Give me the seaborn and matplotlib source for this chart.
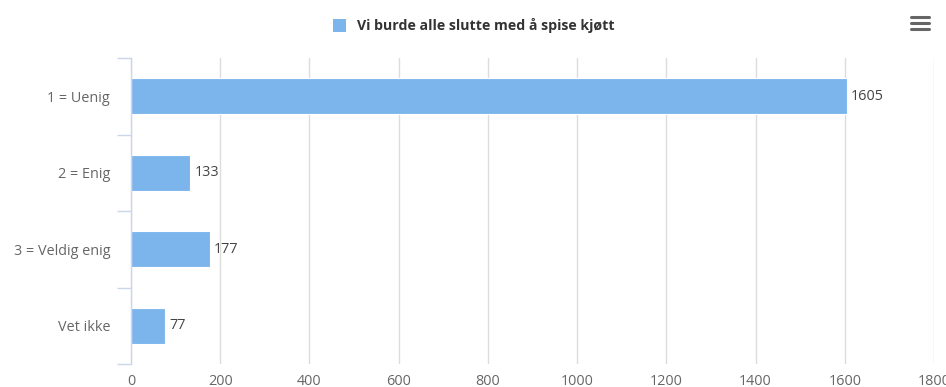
import matplotlib
matplotlib.use("Agg")
import matplotlib.pyplot as plt
from matplotlib.lines import Line2D
from matplotlib.patches import Rectangle
import seaborn as sns
import pandas as pd

categories = ["1 = Uenig", "2 = Enig", "3 = Veldig enig", "Vet ikke"]
values = [1605, 133, 177, 77]
series_name = "Vi burde alle slutte med å spise kjøtt"
x_ticks = [0, 200, 400, 600, 800, 1000, 1200, 1400, 1600, 1800]

BAR = "#7cb5ec"
GRID = "#dcdcdc"
AXIS = "#ccd6eb"
LABEL = "#666666"

sns.set_theme(style="white")
plt.rcParams["font.family"] = ["Open Sans", "DejaVu Sans"]

df = pd.DataFrame({"category": categories, "value": values})

fig = plt.figure(figsize=(9.46, 3.87), dpi=100)
ax = fig.add_axes([131 / 946, 1 - 364 / 387, (934 - 131) / 946, (364 - 58) / 387])

sns.barplot(data=df, x="value", y="category", orient="h", color=BAR,
            saturation=1, width=0.47, edgecolor="white", linewidth=0.8, ax=ax)

ax.set_xlim(0, 1800)
ax.set_ylim(len(categories) - 0.5, -0.5)
ax.set_xticks(x_ticks)
ax.set_xticklabels([str(t) for t in x_ticks], color=LABEL, fontsize=10.4)
ax.tick_params(axis="x", length=0, pad=7)
ax.set_yticks(range(len(categories)))
ax.set_yticklabels(categories, color=LABEL, fontsize=10.4)
ax.tick_params(axis="y", which="major", length=0, pad=15)
ax.set_yticks([i - 0.5 for i in range(len(categories) + 1)], minor=True)
ax.tick_params(axis="y", which="minor", length=10, width=1, color=AXIS, left=True)
ax.set_xlabel("")
ax.set_ylabel("")

ax.grid(axis="x", color=GRID, linewidth=1)
ax.set_axisbelow(True)
for side in ["top", "right", "bottom"]:
    ax.spines[side].set_visible(False)
ax.spines["left"].set_color(AXIS)
ax.spines["left"].set_linewidth(1)

for i, v in enumerate(values):
    ax.annotate(str(v), xy=(v, i), xytext=(3, 0), textcoords="offset points",
                va="center", ha="left", fontsize=10.4, color="#444444")

# legend entry at the top
fig.patches.append(Rectangle((333 / 946, 1 - 32 / 387), 13 / 946, 13 / 387,
                             transform=fig.transFigure, facecolor=BAR,
                             edgecolor="none"))
fig.text(357 / 946, 1 - 25.5 / 387, series_name, ha="left", va="center",
         fontsize=10.2, fontweight="bold", color="#333333")

# context menu icon
for yy in (17, 23, 29):
    fig.add_artist(Line2D([911 / 946, 929 / 946], [1 - yy / 387] * 2,
                          transform=fig.transFigure, color="#666666",
                          linewidth=2.2, solid_capstyle="round"))

fig.savefig("out.png", dpi=100)
